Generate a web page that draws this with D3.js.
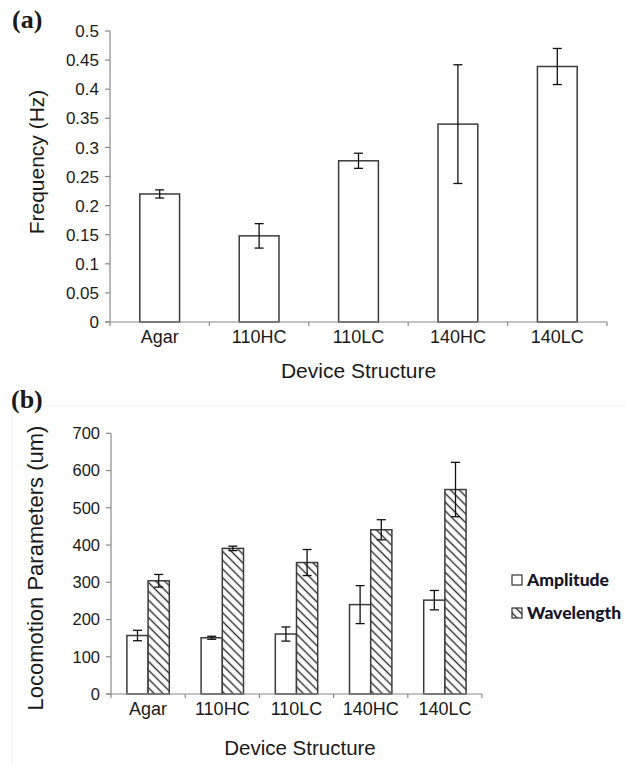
<!DOCTYPE html>
<html>
<head>
<meta charset="utf-8">
<script src="https://cdn.jsdelivr.net/npm/d3@7"></script>
<style>
  html, body { margin: 0; padding: 0; background: #fff; }
  svg { display: block; }
  text { font-family: "Liberation Sans", Arial, sans-serif; fill: #1a1a1a; }
</style>
</head>
<body>
<svg id="chart" width="626" height="764"></svg>
<script>
// Device structures on the x axis (shared by both panels)
const categories = ["Agar", "110HC", "110LC", "140HC", "140LC"];

// Panel (a): undulation frequency (Hz) with standard error
const frequency    = [0.220, 0.148, 0.277, 0.340, 0.439];
const frequencyErr = [0.007, 0.021, 0.013, 0.102, 0.031];
const freqTicks    = [0, 0.05, 0.1, 0.15, 0.2, 0.25, 0.3, 0.35, 0.4, 0.45, 0.5];

// Panel (b): locomotion parameters (um) with standard error
const seriesNames   = ["Amplitude", "Wavelength"];
const amplitude     = [157, 151, 161, 240, 252];
const amplitudeErr  = [14, 4, 19, 51, 26];
const wavelength    = [304, 391, 353, 441, 549];
const wavelengthErr = [17, 6, 35, 27, 73];
const locoTicks     = [0, 100, 200, 300, 400, 500, 600, 700];

const svg = d3.select("#chart");
const axisColor = "#8a8a8a";
const barStroke = "#3c3c3c";

// Diagonal hatch (top-left to bottom-right) used for the wavelength bars
const defs = svg.append("defs");
const pat = defs.append("pattern")
  .attr("id", "hatch")
  .attr("patternUnits", "userSpaceOnUse")
  .attr("width", 6.2).attr("height", 6.2)
  .attr("patternTransform", "rotate(45)");
pat.append("rect").attr("width", 6.2).attr("height", 6.2).attr("fill", "#fff");
pat.append("line")
  .attr("x1", 0).attr("y1", 3.1).attr("x2", 6.2).attr("y2", 3.1)
  .attr("stroke", "#2e2e2e").attr("stroke-width", 1.4);

function fmtGeneral(v) { return String(+v.toFixed(2)); }

// Category axis in the spreadsheet style: tick marks between categories
function drawCatAxis(g, x, y0, fontSize, labelDy) {
  g.append("line")
    .attr("x1", x.range()[0] - 5).attr("x2", x.range()[1])
    .attr("y1", y0).attr("y2", y0)
    .attr("stroke", axisColor).attr("stroke-width", 1.2);
  const bounds = categories.map(c => x(c)).concat([x.range()[1]]);
  g.selectAll(".xtick").data(bounds).join("line")
    .attr("x1", d => d).attr("x2", d => d)
    .attr("y1", y0).attr("y2", y0 + 4)
    .attr("stroke", axisColor).attr("stroke-width", 1.2);
  g.selectAll(".xlab").data(categories).join("text")
    .attr("x", d => x(d) + x.bandwidth() / 2)
    .attr("y", y0 + labelDy)
    .attr("text-anchor", "middle")
    .attr("font-size", fontSize)
    .text(d => d);
}

function drawValAxis(g, y, x0, ticks, fmt, fontSize) {
  g.append("line")
    .attr("x1", x0).attr("x2", x0)
    .attr("y1", y.range()[0]).attr("y2", y.range()[1])
    .attr("stroke", axisColor).attr("stroke-width", 1.2);
  g.selectAll(".ytick").data(ticks).join("line")
    .attr("x1", x0 - 5).attr("x2", x0)
    .attr("y1", d => y(d)).attr("y2", d => y(d))
    .attr("stroke", axisColor).attr("stroke-width", 1.2);
  g.selectAll(".ylab").data(ticks).join("text")
    .attr("x", x0 - 11)
    .attr("y", d => y(d))
    .attr("dy", "0.36em")
    .attr("text-anchor", "end")
    .attr("font-size", fontSize)
    .text(fmt);
}

function drawErrors(g, cx, yTop, yBot, cap) {
  g.append("line").attr("x1", cx).attr("x2", cx).attr("y1", yTop).attr("y2", yBot)
    .attr("stroke", "#111").attr("stroke-width", 1.3);
  [yTop, yBot].forEach(yy => {
    g.append("line").attr("x1", cx - cap).attr("x2", cx + cap).attr("y1", yy).attr("y2", yy)
      .attr("stroke", "#111").attr("stroke-width", 1.3);
  });
}

// ---------- Panel (a) ----------
{
  const g = svg.append("g");
  const x = d3.scaleBand().domain(categories).range([110, 607]).padding(0);
  const inner = d3.scaleBand().domain(["f"]).range([0, x.bandwidth()]).paddingOuter(0.75).paddingInner(0);
  const y = d3.scaleLinear().domain([0, 0.5]).range([322, 31]);

  svg.append("text")
    .attr("x", 12).attr("y", 28)
    .style("font-family", "'Liberation Serif', 'Times New Roman', serif")
    .attr("font-weight", "bold").attr("font-size", 26)
    .text("(a)");

  drawValAxis(g, y, 110, freqTicks, fmtGeneral, 17);

  const bars = g.append("g");
  categories.forEach((c, i) => {
    const bx = x(c) + inner("f");
    bars.append("rect")
      .attr("x", bx).attr("y", y(frequency[i]))
      .attr("width", inner.bandwidth()).attr("height", y(0) - y(frequency[i]))
      .attr("fill", "#fff").attr("stroke", barStroke).attr("stroke-width", 1.5);
    drawErrors(bars, bx + inner.bandwidth() / 2,
      y(frequency[i] + frequencyErr[i]), y(frequency[i] - frequencyErr[i]), 4.5);
  });

  drawCatAxis(g, x, 322, 18, 21);

  g.append("text")
    .attr("x", (x.range()[0] + x.range()[1]) / 2).attr("y", 378)
    .attr("text-anchor", "middle").attr("font-size", 21)
    .text("Device Structure");

  g.append("text")
    .attr("transform", "translate(44,162) rotate(-90)")
    .attr("text-anchor", "middle").attr("font-size", 21)
    .text("Frequency (Hz)");
}

// ---------- Panel (b) ----------
{
  const g = svg.append("g");
  // faint chart-area border
  g.append("rect")
    .attr("x", 12).attr("y", 406).attr("width", 640).attr("height", 400)
    .attr("fill", "none").attr("stroke", "#f1f1f1").attr("stroke-width", 1);

  svg.append("text")
    .attr("x", 11).attr("y", 408)
    .style("font-family", "'Liberation Serif', 'Times New Roman', serif")
    .attr("font-weight", "bold").attr("font-size", 26)
    .text("(b)");

  const x = d3.scaleBand().domain(categories).range([111, 482]).padding(0);
  const x1 = d3.scaleBand().domain(seriesNames).range([0, x.bandwidth()]).paddingOuter(0.75).paddingInner(0);
  const y = d3.scaleLinear().domain([0, 700]).range([694, 433.3]);

  drawValAxis(g, y, 111, locoTicks, d => String(d), 16.5);

  const series = [
    { name: "Amplitude", vals: amplitude, errs: amplitudeErr, fill: "#fff" },
    { name: "Wavelength", vals: wavelength, errs: wavelengthErr, fill: "url(#hatch)" }
  ];
  const bars = g.append("g");
  categories.forEach((c, i) => {
    series.forEach(s => {
      const bx = x(c) + x1(s.name);
      bars.append("rect")
        .attr("x", bx).attr("y", y(s.vals[i]))
        .attr("width", x1.bandwidth()).attr("height", y(0) - y(s.vals[i]))
        .attr("fill", s.fill).attr("stroke", barStroke).attr("stroke-width", 1.5);
    });
  });
  categories.forEach((c, i) => {
    series.forEach(s => {
      const cx = x(c) + x1(s.name) + x1.bandwidth() / 2;
      drawErrors(bars, cx, y(s.vals[i] + s.errs[i]), y(s.vals[i] - s.errs[i]), 4.5);
    });
  });

  drawCatAxis(g, x, 694, 18, 21);

  g.append("text")
    .attr("x", 300).attr("y", 755)
    .attr("text-anchor", "middle").attr("font-size", 20.5)
    .text("Device Structure");

  g.append("text")
    .attr("transform", "translate(43,568) rotate(-90)")
    .attr("text-anchor", "middle").attr("font-size", 22)
    .text("Locomotion Parameters (um)");

  // legend
  const leg = g.append("g");
  series.forEach((s, k) => {
    const ly = 575 + k * 33;
    leg.append("rect")
      .attr("x", 512).attr("y", ly).attr("width", 10).attr("height", 10)
      .attr("fill", s.fill).attr("stroke", "#333").attr("stroke-width", 1.2);
    leg.append("text")
      .attr("x", 527).attr("y", ly + 11)
      .style("font-family", "Lato, 'Open Sans', sans-serif")
      .attr("font-weight", "900").attr("font-size", 17.5)
      .style("fill", "#15152a")
      .text(s.name);
  });
}
</script>
</body>
</html>
